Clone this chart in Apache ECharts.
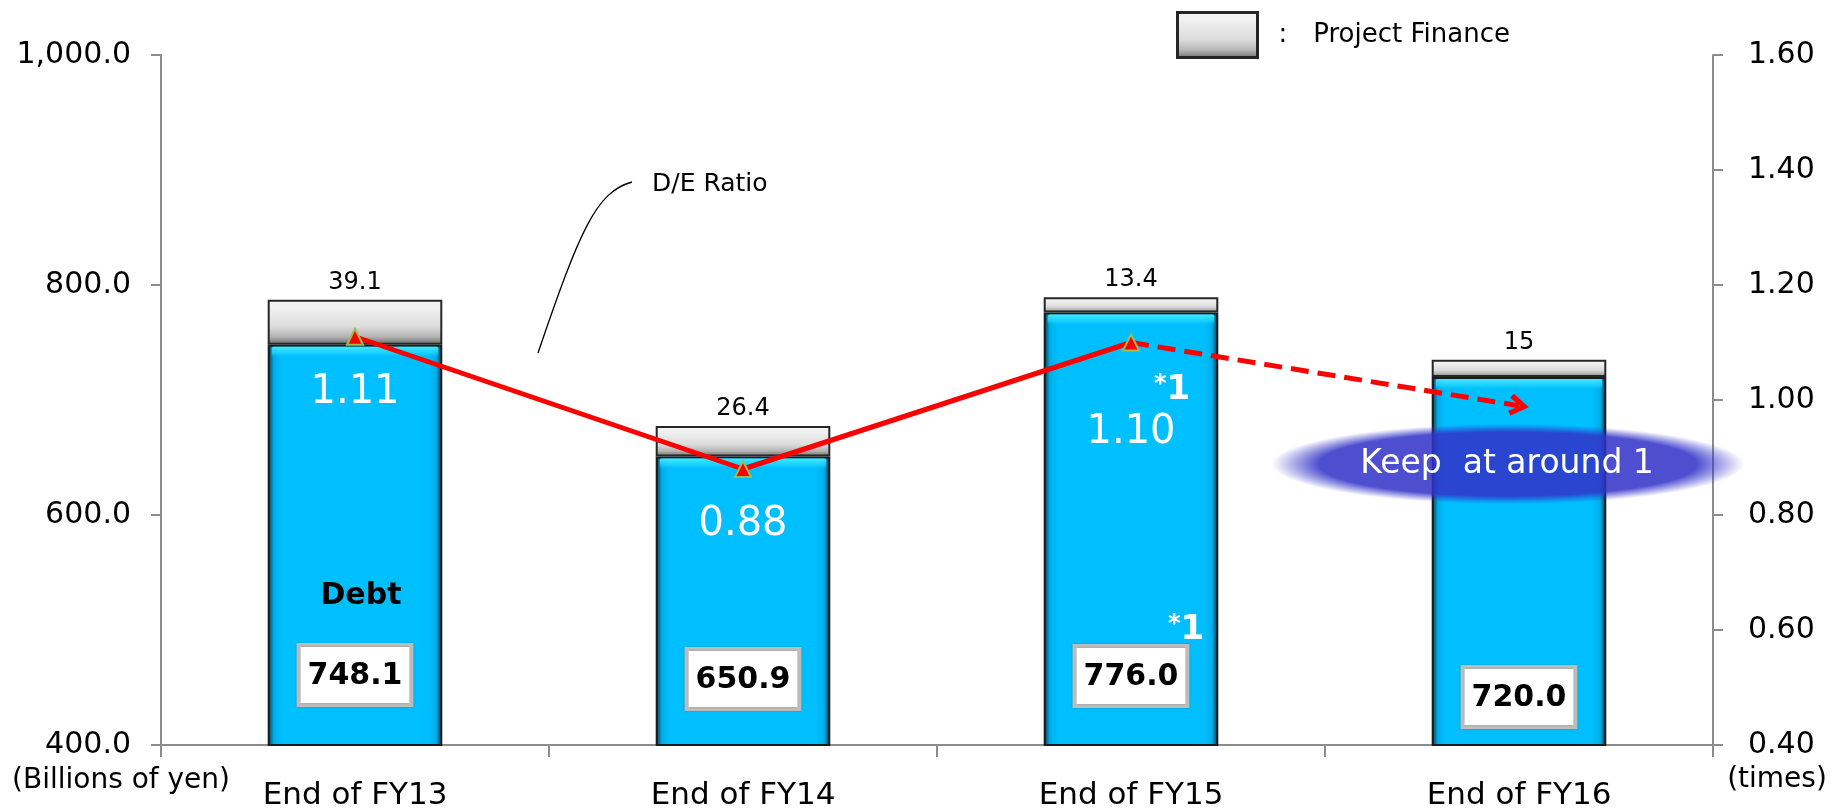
<!DOCTYPE html>
<html>
<head>
<meta charset="utf-8">
<script src="https://cdn.jsdelivr.net/npm/echarts@6/dist/echarts.min.js"></script>
<style>
  html, body { margin: 0; padding: 0; background: #fff; }
  #chart { width: 1834px; height: 811px; }
</style>
</head>
<body>
<div id="chart"></div>
<script>
// Debt and D/E ratio by fiscal year end
const categories = ['End of FY13', 'End of FY14', 'End of FY15', 'End of FY16'];
const debt = [748.1, 650.9, 776.0, 720.0];            // billions of yen
const projectFinance = [39.1, 26.4, 13.4, 15];         // billions of yen
const deRatio = [1.11, 0.88, 1.10, null];              // times
const deOutlook = [null, null, 1.10, 0.99];            // times, forecast leg
const leftAxisRange = [400, 1000, 200];
const rightAxisRange = [0.4, 1.6, 0.2];

// layout helpers (label offsets, in px)
const boxLift = [43, 39, 42, 21];
const ratioLabelGap = [27, 27, 61];

const FONT = 'DejaVu Sans';
const BAR_SHARE = 0.45;
const chart = echarts.init(document.getElementById('chart'));

const blueFill = new echarts.graphic.LinearGradient(0, 0, 1, 0, [
  { offset: 0, color: '#0b2c3c' },
  { offset: 0.035, color: '#00aee8' },
  { offset: 0.08, color: '#00bfff' },
  { offset: 0.92, color: '#00bfff' },
  { offset: 0.965, color: '#00aee8' },
  { offset: 1, color: '#0b2c3c' }
]);
const grayFill = new echarts.graphic.LinearGradient(0, 0, 0, 1, [
  { offset: 0, color: '#f4f4f4' },
  { offset: 0.2, color: '#f0f0f0' },
  { offset: 0.6, color: '#dcdcdc' },
  { offset: 0.82, color: '#b4b4b4' },
  { offset: 1, color: '#6a6a6a' }
]);

function fmtYen(v) {
  const s = v.toFixed(1);
  const [i, d] = s.split('.');
  return i.replace(/\B(?=(\d{3})+(?!\d))/g, ',') + '.' + d;
}

// open chevron used as the arrow head of the outlook line (points up in its own frame)
const chevron = 'path://M0,8 L5,0 L10,8 L8,9.5 L5,4.2 L2,9.5 Z';

const starOne = {
  s: { font: 'bold 24px "DejaVu Sans"', fill: '#fff', verticalAlign: 'top' },
  n: { font: 'bold 34px "DejaVu Sans"', fill: '#fff' }
};

// glossy strip along the top edge of each debt bar
function renderGloss(params, api) {
  const p = api.coord([api.value(0), api.value(1)]);
  const w = api.size([1, 0])[0] * BAR_SHARE;
  return {
    type: 'rect',
    shape: { x: p[0] - w / 2 + 4, y: p[1] + 2, width: w - 8, height: 11, r: 2 },
    style: {
      fill: new echarts.graphic.LinearGradient(0, 0, 0, 1, [
        { offset: 0, color: 'rgba(70,235,255,0.95)' },
        { offset: 0.6, color: 'rgba(40,220,255,0.6)' },
        { offset: 1, color: 'rgba(0,191,255,0)' }
      ])
    },
    silent: true
  };
}

const option = {
  animation: false,
  textStyle: { fontFamily: FONT },
  grid: { left: 161, right: 121, top: 55, bottom: 63 },
  legend: {
    data: ['Project Finance'],
    left: 1171, top: 6,
    itemWidth: 80, itemHeight: 45,
    selectedMode: false,
    icon: 'rect',
    itemStyle: { color: grayFill, borderColor: '#262626', borderWidth: 3 },
    formatter: '{c|:}{p|{name}}',
    textStyle: {
      fontFamily: FONT, fontSize: 26, color: '#000',
      rich: {
        c: { fontFamily: FONT, fontSize: 26, padding: [0, 26, 0, 16] },
        p: { fontFamily: FONT, fontSize: 26 }
      }
    }
  },
  xAxis: {
    type: 'category',
    data: categories,
    axisLine: { lineStyle: { color: '#8c8c8c', width: 2 } },
    axisTick: { show: true, length: 12, lineStyle: { color: '#8c8c8c', width: 2 } },
    axisLabel: { fontFamily: FONT, fontSize: 31, color: '#000', margin: 35 }
  },
  yAxis: [
    {
      type: 'value',
      min: leftAxisRange[0], max: leftAxisRange[1], interval: leftAxisRange[2],
      axisLine: { show: true, lineStyle: { color: '#8c8c8c', width: 2 } },
      axisTick: { show: true, length: 10, lineStyle: { color: '#8c8c8c', width: 2 } },
      splitLine: { show: false },
      axisLabel: { fontFamily: FONT, fontSize: 30, color: '#000', margin: 30, formatter: fmtYen }
    },
    {
      type: 'value',
      min: rightAxisRange[0], max: rightAxisRange[1], interval: rightAxisRange[2],
      position: 'right',
      axisLine: { show: true, lineStyle: { color: '#8c8c8c', width: 2 } },
      axisTick: { show: true, length: 10, lineStyle: { color: '#8c8c8c', width: 2 } },
      splitLine: { show: false },
      axisLabel: { fontFamily: FONT, fontSize: 30, color: '#000', margin: 35, formatter: v => v.toFixed(2) }
    }
  ],
  series: [
    {
      name: 'Debt',
      type: 'bar',
      stack: 'total',
      barWidth: (BAR_SHARE * 100) + '%',
      itemStyle: { color: blueFill, borderColor: '#1c1c1c', borderWidth: 2 },
      data: debt.map((v, i) => ({ value: v, label: { distance: boxLift[i] } })),
      label: {
        show: true,
        position: 'insideBottom',
        formatter: p => p.value.toFixed(1),
        fontFamily: FONT, fontSize: 30, fontWeight: 'bold', color: '#000',
        backgroundColor: '#ffffff',
        borderColor: '#bdbdbd', borderWidth: 4,
        padding: [11, 7, 9, 7],
        lineHeight: 36,
        shadowColor: 'rgba(0,0,0,0.25)', shadowBlur: 2
      },
      z: 2
    },
    {
      name: 'Project Finance',
      type: 'bar',
      stack: 'total',
      barWidth: (BAR_SHARE * 100) + '%',
      itemStyle: { color: grayFill, borderColor: '#262626', borderWidth: 2 },
      data: projectFinance,
      label: {
        show: true, position: 'top', distance: 5,
        fontFamily: FONT, fontSize: 24, color: '#000',
        formatter: p => String(p.value)
      },
      z: 2
    },
    {
      name: 'Debt gloss',
      type: 'custom',
      renderItem: renderGloss,
      data: debt.map((v, i) => [i, v]),
      encode: { x: 0, y: 1 },
      silent: true,
      z: 3
    },
    {
      name: 'D/E Ratio',
      type: 'line',
      yAxisIndex: 1,
      data: deRatio.map((v, i) => v == null ? '-' : ({ value: v, label: { distance: ratioLabelGap[i] } })),
      symbol: 'triangle',
      symbolSize: 16,
      itemStyle: { color: '#ff0000', borderColor: '#9bbb59', borderWidth: 2 },
      lineStyle: { color: '#ff0000', width: 5 },
      label: {
        show: true, position: 'bottom',
        fontFamily: FONT, fontSize: 40, fontWeight: 'normal', color: '#ffffff',
        formatter: p => Number(p.value).toFixed(2)
      },
      markLine: {
        silent: true,
        symbol: ['none', chevron],
        symbolSize: [22, 20],
        lineStyle: { color: '#ff0000', width: 5, type: [18, 9] },
        label: { show: false },
        data: [[
          { coord: [categories[2], deOutlook[2]] },
          { coord: [categories[3], deOutlook[3]] }
        ]]
      },
      z: 5
    }
  ],
  graphic: [
    { type: 'text', z: 50, style: { text: '(Billions of yen)', x: 121, y: 781, align: 'center', verticalAlign: 'middle', font: '28px "DejaVu Sans"', fill: '#000' } },
    { type: 'text', z: 50, style: { text: '(times)', x: 1777, y: 780, align: 'center', verticalAlign: 'middle', font: '28px "DejaVu Sans"', fill: '#000' } },
    { type: 'text', z: 50, style: { text: 'D/E Ratio', x: 652, y: 184, align: 'left', verticalAlign: 'middle', font: '25px "DejaVu Sans"', fill: '#000' } },
    { type: 'bezierCurve', z: 50, shape: { x1: 538, y1: 353, cpx1: 580, cpy1: 230, cpx2: 596, cpy2: 192, x2: 632, y2: 182 }, style: { stroke: '#000', lineWidth: 1.3, fill: null } },
    { type: 'text', z: 50, style: { text: 'Debt', x: 361, y: 596, align: 'center', verticalAlign: 'middle', font: 'bold 30px "DejaVu Sans"', fill: '#000' } },
    { type: 'text', z: 50, style: { text: '{s|*}{n|1}', x: 1172, y: 390, align: 'center', verticalAlign: 'middle', rich: starOne } },
    { type: 'text', z: 50, style: { text: '{s|*}{n|1}', x: 1186, y: 630, align: 'center', verticalAlign: 'middle', rich: starOne } },
    {
      type: 'circle', z: 60,
      x: 1508, y: 464, scaleX: 5.9, scaleY: 1,
      shape: { cx: 0, cy: 0, r: 40 },
      style: {
        fill: new echarts.graphic.RadialGradient(0.5, 0.5, 0.5, [
          { offset: 0, color: 'rgba(49,50,200,0.86)' },
          { offset: 0.8, color: 'rgba(49,50,200,0.86)' },
          { offset: 1, color: 'rgba(49,50,200,0)' }
        ])
      }
    },
    { type: 'text', z: 70, style: { text: 'Keep  at around 1', x: 1507, y: 464, align: 'center', verticalAlign: 'middle', font: '33px "DejaVu Sans"', fill: '#ffffff' } }
  ]
};

chart.setOption(option);
</script>
</body>
</html>
